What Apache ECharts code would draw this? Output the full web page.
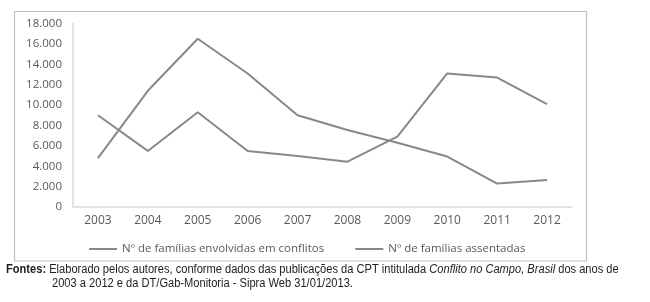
<!DOCTYPE html>
<html>
<head>
<meta charset="utf-8">
<script src="https://cdn.jsdelivr.net/npm/echarts@6/dist/echarts.min.js"></script>
<style>
  html, body { margin: 0; padding: 0; background: #fff; }
  #main { width: 650px; height: 302px; }
</style>
</head>
<body>
<div id="main"></div>
<script>
// dados
var anos = ['2003', '2004', '2005', '2006', '2007', '2008', '2009', '2010', '2011', '2012']
var conflitos = [9000, 5500, 9300, 5500, 5000, 4450, 6900, 13100, 12700, 10100]
var assentadas = [4800, 11400, 16500, 13100, 9000, 7550, 6300, 4950, 2300, 2650]
var nomes = ['Nº de famílias envolvidas em conflitos', 'Nº de famílias assentadas']

var cinza = '#888888'
var fonte = '"Open Sans", "Noto Sans", sans-serif'
var fonteRodape = '"Liberation Sans", Arial, sans-serif'

var chart = echarts.init(document.getElementById('main'))

function serie (nome, dados) {
  return {
    name: nome,
    type: 'line',
    data: dados,
    showSymbol: false,
    symbol: 'none',
    lineStyle: { color: cinza, width: 2 },
    itemStyle: { color: cinza }
  }
}

chart.setOption({
  animation: false,
  grid: { left: 73, right: 78, top: 23.5, bottom: 95 },
  xAxis: {
    type: 'category',
    data: anos,
    boundaryGap: true,
    axisLine: { show: true, lineStyle: { color: '#d9d9d9', width: 1.5 } },
    axisTick: { show: false },
    axisLabel: { color: '#595959', fontSize: 12, fontFamily: fonte, margin: 8 }
  },
  yAxis: {
    type: 'value',
    min: 0,
    max: 18000,
    interval: 2000,
    splitLine: { show: false },
    axisLine: { show: true, lineStyle: { color: '#d9d9d9', width: 1.5 } },
    axisTick: { show: false },
    axisLabel: {
      color: '#595959',
      fontSize: 11.5,
      fontFamily: fonte,
      margin: 11,
      formatter: function (v) {
        return v === 0 ? '0' : (v / 1000).toFixed(3)
      }
    }
  },
  legend: {
    left: 84,
    top: 238,
    icon: 'rect',
    itemWidth: 28,
    itemHeight: 2,
    itemGap: 31,
    textStyle: { color: '#595959', fontSize: 11.5, fontFamily: fonte },
    data: nomes
  },
  graphic: [
    {
      type: 'rect',
      shape: { x: 14.5, y: 11.5, width: 572, height: 249.5 },
      style: { fill: 'none', stroke: '#bfbfbf', lineWidth: 1.2 },
      silent: true
    },
    {
      type: 'text',
      x: 6,
      y: 264,
      scaleX: 0.925,
      style: {
        text: '{b|Fontes:} Elaborado pelos autores, conforme dados das publicações da CPT intitulada {i|Conflito no Campo, Brasil} dos anos de',
        fontFamily: fonteRodape,
        fontSize: 12,
        fill: '#222',
        rich: {
          b: { fontWeight: 'bold', fontFamily: fonteRodape, fontSize: 12, fill: '#222' },
          i: { fontStyle: 'italic', fontFamily: fonteRodape, fontSize: 12, fill: '#222' }
        }
      }
    },
    {
      type: 'text',
      x: 52,
      y: 278,
      scaleX: 0.925,
      style: {
        text: '2003 a 2012 e da DT/Gab-Monitoria - Sipra Web 31/01/2013.',
        fontFamily: fonteRodape,
        fontSize: 12,
        fill: '#222'
      }
    }
  ],
  series: [
    serie(nomes[0], conflitos),
    serie(nomes[1], assentadas)
  ]
})
</script>
</body>
</html>
